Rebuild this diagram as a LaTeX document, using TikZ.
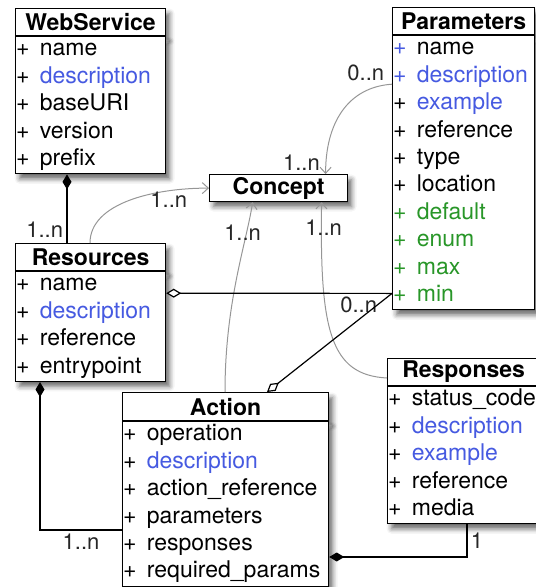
\documentclass[tikz,border=0pt]{standalone}
\usepackage{fontspec}
\setmainfont{TeX Gyre Heros}
\usetikzlibrary{positioning,arrows.meta,shadows.blur}
\definecolor{attblue}{RGB}{70,90,225}
\definecolor{attgreen}{RGB}{40,150,40}
\definecolor{linkgray}{RGB}{150,150,150}
\newcommand{\attr}[2][black]{\strut\textcolor{#1}{+}\hspace{.45em}#2}
\newcommand{\blu}[1]{\textcolor{attblue}{#1}}
\newcommand{\grn}[1]{\textcolor{attgreen}{#1}}
\begin{document}
\begin{tikzpicture}[x=1pt,y=-1pt,
	shd/.style={blur shadow={shadow xshift=4pt,shadow yshift=-5pt,shadow blur radius=5pt,shadow opacity=60}},
	hd/.style={draw,line width=1.2pt,fill=white,shd,anchor=north west,minimum height=27pt,inner sep=0pt,font=\fontsize{23}{27.4}\selectfont\bfseries},
	bd/.style={draw,line width=1.2pt,fill=white,shd,inner xsep=0.5pt,inner ysep=0pt,align=left,font=\fontsize{23}{27.4}\selectfont},
	lbl/.style={font=\fontsize{22}{26}\selectfont,text=black!85},
	ref/.style={draw=linkgray,line width=1pt,-{Straight Barb[length=6pt,width=11pt]}},
	comp/.style={line width=1.2pt,{Diamond[length=15pt,width=9pt]}-},
	agg/.style={line width=1.2pt,{Diamond[fill=white,length=15pt,width=9pt]}-}]
	\useasboundingbox(0,0)rectangle(536,587);
	% classes
	\node[hd,minimum width=150pt](ws)at(15,8){WebService};
	\node[bd,text width=149pt,minimum height=137pt,below=0pt of ws](wsb){\attr{name}\\\attr{\blu{description}}\\\attr{baseURI}\\\attr{version}\\\attr{prefix}};
	\node[hd,minimum width=142pt](pm)at(392,7){Parameters};
	\node[bd,text width=141pt,minimum height=274pt,below=0pt of pm](pmb){\attr[attblue]{name}\\\attr[attblue]{\blu{description}}\\\attr{\blu{example}}\\\attr{reference}\\\attr{type}\\\attr{location}\\\attr[attgreen]{\grn{default}}\\\attr[attgreen]{\grn{enum}}\\\attr[attgreen]{\grn{max}}\\\attr[attgreen]{\grn{min}}};
	\node[hd,minimum width=138pt](cn)at(209,174){Concept};
	\node[hd,minimum width=150pt](rs)at(15,243){Resources};
	\node[bd,text width=149pt,minimum height=109.6pt,below=0pt of rs](rsb){\attr{name}\\\attr{\blu{description}}\\\attr{reference}\\\attr{entrypoint}};
	\node[hd,minimum width=206pt,minimum height=28pt](ac)at(122,392){Action};
	\node[bd,text width=205pt,minimum height=164.4pt,below=0pt of ac](acb){\attr{operation}\\\attr{\blu{description}}\\\attr{action\_reference}\\\attr{parameters}\\\attr{responses}\\\attr{required\_params}};
	\node[hd,minimum width=152pt](rp)at(387,358){Responses};
	\node[bd,text width=151pt,minimum height=137pt,below=0pt of rp](rpb){\attr{status\_code}\\\attr{\blu{description}}\\\attr{\blu{example}}\\\attr{reference}\\\attr{media}};
	% links to Concept
	\draw[ref]([xshift=75pt]rs.north west)..controls+(0,-40)and+(-55,0)..(cn.west)node[lbl,pos=1,anchor=north east,xshift=-18pt](crs){1..n};
	\draw[ref]([yshift=-49pt]pmb.north west)..controls+(-45,3)and+(0,-50)..([xshift=47pt]cn.north)
		node[lbl,pos=0,above left,xshift=-4pt](cpm0){0..n}node[lbl,pos=1,above left,xshift=-2pt](cpm){1..n};
	\draw[ref]([xshift=103pt]ac.north west)..controls+(0,-90)and+(-6,40)..([xshift=-26pt]cn.south)node[lbl,pos=1,anchor=north,xshift=-10pt,yshift=-19pt](cac){1..n};
	\draw[ref]([yshift=-20pt]rp.north west)..controls+(-57,-3)and+(-2,128)..([xshift=43pt]cn.south)node[lbl,pos=1,anchor=north,xshift=2pt,yshift=-14pt](crp){1..n};
	% compositions and aggregations
	\draw[comp]([xshift=52pt]wsb.south west)--([xshift=52pt]rs.north west)node[lbl,pos=.8,left](mws){1..n};
	\draw[agg]([yshift=-22pt]rsb.north east)--([yshift=17pt]pmb.south west)node[lbl,pos=1,below left,xshift=-11pt](mpm){0..n};
	\draw[agg]([xshift=145pt]ac.north west)--([yshift=17pt]pmb.south west);
	\draw[comp]([xshift=25pt]rsb.south west)|-([yshift=-26pt]acb.west)node[lbl,pos=.75,below](mrs){1..n};
	\draw[comp]([yshift=-53pt]acb.east)-|([xshift=80pt]rpb.south west)node[lbl,pos=.75,right](mac){1};
\end{tikzpicture}
\end{document}
